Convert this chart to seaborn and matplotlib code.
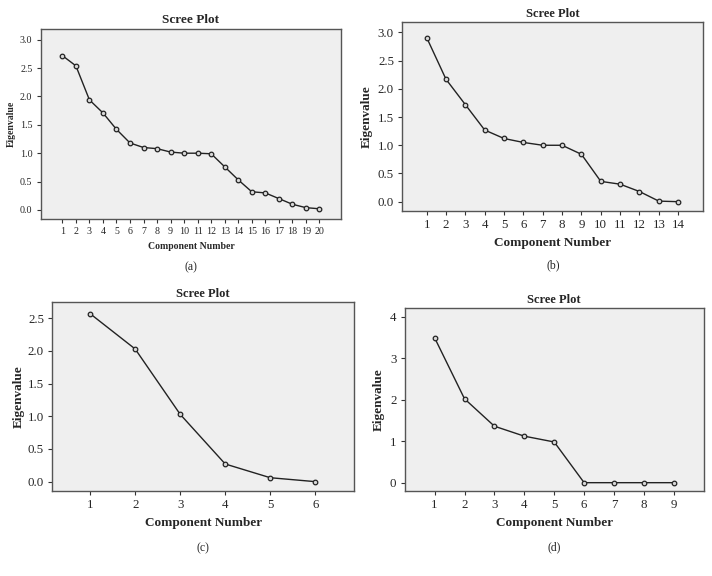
import matplotlib
matplotlib.use("Agg")
import matplotlib.pyplot as plt
import seaborn as sns
import pandas as pd

# eigenvalues
eig_a = [2.72, 2.54, 1.94, 1.71, 1.42, 1.18, 1.10, 1.08, 1.02, 1.00,
         1.00, 0.99, 0.76, 0.53, 0.32, 0.30, 0.20, 0.10, 0.04, 0.02]
eig_b = [2.91, 2.17, 1.72, 1.27, 1.12, 1.05, 1.00, 1.00, 0.84, 0.36,
         0.31, 0.18, 0.01, 0.00]
eig_c = [2.57, 2.03, 1.03, 0.27, 0.06, 0.00]
eig_d = [3.49, 2.02, 1.36, 1.12, 0.98, 0.00, 0.00, 0.00, 0.00]

yticks_a = [0.0, 0.5, 1.0, 1.5, 2.0, 2.5, 3.0]
yticks_b = [0.0, 0.5, 1.0, 1.5, 2.0, 2.5, 3.0]
yticks_c = [0.0, 0.5, 1.0, 1.5, 2.0, 2.5]
yticks_d = [0, 1, 2, 3, 4]

panel_names = ["(a)", "(b)", "(c)", "(d)"]

sns.set_style("ticks", {"axes.facecolor": "#efefef", "axes.edgecolor": "#555555"})
plt.rcParams["font.family"] = ["Liberation Serif", "DejaVu Serif"]

fig = plt.figure(figsize=(7.12, 5.76), dpi=100)

# [left, bottom, width, height], xlim, ylim, font sizes (tick, label, title), ylabel x
panels = [
    (eig_a, yticks_a, "{:.1f}", [0.0572, 0.6198, 0.4218, 0.3299], (-0.6, 21.6), (-0.16, 3.19), (7.2, 7, 9), -0.082),
    (eig_b, yticks_b, "{:.1f}", [0.5650, 0.6337, 0.4228, 0.3276], (-0.26, 15.3), (-0.165, 3.18), (9.3, 9.5, 8.5), -0.099),
    (eig_c, yticks_c, "{:.1f}", [0.0735, 0.1476, 0.4237, 0.3276], (0.16, 6.86), (-0.143, 2.745), (9.3, 9.5, 8.5), -0.092),
    (eig_d, yticks_d, "{:.0f}", [0.5684, 0.1476, 0.4200, 0.3172], (0.0, 10.0), (-0.2, 4.2), (9.3, 9.5, 8.5), -0.067),
]

label_y = [267, 265, 548, 547]

for i, (vals, yt, fmt, rect, xl, yl, fs, ylx) in enumerate(panels):
    ax = fig.add_axes(rect)
    df = pd.DataFrame({"Component Number": range(1, len(vals) + 1), "Eigenvalue": vals})
    sns.lineplot(data=df, x="Component Number", y="Eigenvalue", ax=ax,
                 color="#222222", linewidth=1.0, marker="o", markersize=3.3,
                 markerfacecolor="#d8d8d8", markeredgecolor="#222222",
                 markeredgewidth=0.9)
    ax.set_xlim(*xl)
    ax.set_ylim(*yl)
    ax.set_xticks(df["Component Number"])
    ax.set_yticks(yt)
    ax.set_yticklabels([fmt.format(v) for v in yt])
    ax.tick_params(labelsize=fs[0], length=3, width=0.8, color="#333333", pad=3)
    ax.set_xlabel("Component Number", fontsize=fs[1], fontweight="bold", labelpad=4)
    ax.set_ylabel("Eigenvalue", fontsize=fs[1], fontweight="bold")
    ax.yaxis.set_label_coords(ylx, 0.5)
    ax.set_title("Scree Plot", fontsize=fs[2] + 0.5, fontweight="bold", pad=4)
    for s in ax.spines.values():
        s.set_linewidth(1.0)
    cx = rect[0] + rect[2] / 2
    fig.text(cx, 1 - label_y[i] / 576, panel_names[i], ha="center", va="center", fontsize=8.5)

fig.savefig("out.png", dpi=100)
